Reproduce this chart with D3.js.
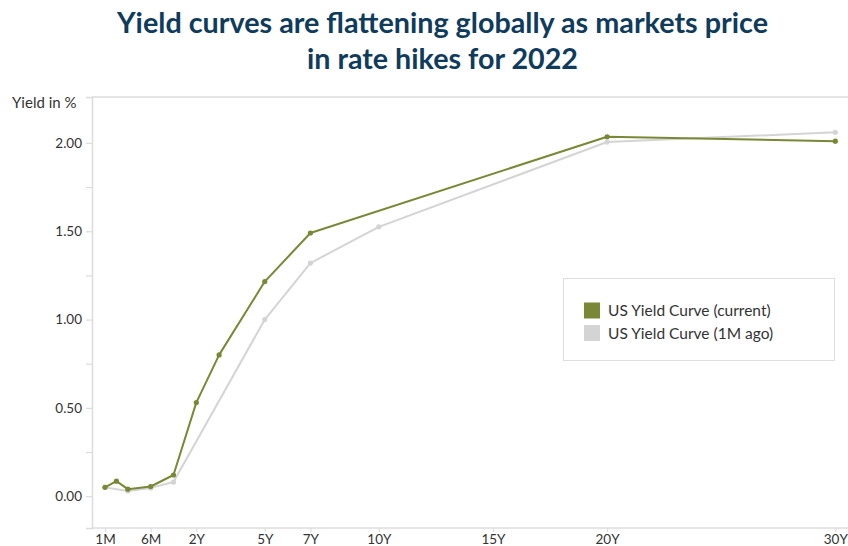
<!DOCTYPE html>
<html><head><meta charset="utf-8">
<script src="https://cdn.jsdelivr.net/npm/d3@7"></script>
<style>body{margin:0;background:#fff}svg{display:block}</style>
</head><body>
<svg id="chart" width="848" height="546"></svg>
<script>
const tenors = ["1M","2M","3M","6M","1Y","2Y","3Y","5Y","7Y","10Y","20Y","30Y"];
const tenorPos = [-2,-1.5,-1,0,1,2,3,5,7,10,20,30];
const currentCurve = [0.05,0.085,0.04,0.055,0.12,0.53,0.80,1.215,1.49,null,2.035,2.01];
const monthAgoCurve = [0.05,null,0.03,0.047,0.08,null,null,1.00,1.32,1.525,2.005,2.06];
const xTickPos = [-2,0,2,5,7,10,15,20,30];
const xTickLabels = ["1M","6M","2Y","5Y","7Y","10Y","15Y","20Y","30Y"];
const yTicks = [0,0.5,1,1.5,2];
const yMinorTicks = [0.25,0.75,1.25,1.75];
const seriesNames = ["US Yield Curve (current)","US Yield Curve (1M ago)"];
const seriesColors = ["#7a8735","#d4d4d4"];
const title = ["Yield curves are flattening globally as markets price","in rate hikes for 2022"];

const svg = d3.select("#chart");
const FONT = "Lato, 'Open Sans', sans-serif";
const L=92, R=849, T=97, B=528;
const x = d3.scaleLinear().domain([-2.57,30.6]).range([L,R]);
const y = d3.scaleLinear().domain([-0.18,2.26]).range([B,T]);

// title
svg.append("text").attr("x",442.5).attr("y",33).attr("text-anchor","middle")
  .attr("font-family",FONT).attr("font-weight",700).attr("font-size",28).attr("fill","#0f3b5c")
  .attr("textLength",651).attr("lengthAdjust","spacingAndGlyphs").text(title[0]);
svg.append("text").attr("x",442.5).attr("y",69).attr("text-anchor","middle")
  .attr("font-family",FONT).attr("font-weight",700).attr("font-size",28).attr("fill","#0f3b5c")
  .attr("textLength",271).attr("lengthAdjust","spacingAndGlyphs").text(title[1]);

// frame
const gridCol="#dcdcdc";
svg.append("line").attr("x1",L).attr("x2",848).attr("y1",T).attr("y2",T).attr("stroke",gridCol).attr("stroke-width",1.5);

// y axis
const yAxis = d3.axisLeft(y).tickValues(yTicks).tickFormat(d3.format(".2f")).tickSize(6).tickPadding(4);
const gy = svg.append("g").attr("transform",`translate(${L},0)`).call(yAxis);
gy.select(".domain").attr("stroke",gridCol).attr("stroke-width",1.5);
gy.selectAll(".tick line").attr("stroke",gridCol).attr("stroke-width",1.2);
gy.selectAll(".tick text").attr("font-family",FONT).attr("font-size",13.5).attr("fill","#333");
const gym = svg.append("g").attr("transform",`translate(${L},0)`)
  .call(d3.axisLeft(y).tickValues(yMinorTicks).tickFormat("").tickSize(6));
gym.select(".domain").remove();
gym.selectAll(".tick line").attr("stroke",gridCol).attr("stroke-width",1.2);

// x axis
const xAxis = d3.axisBottom(x).tickValues(xTickPos).tickFormat((d,i)=>xTickLabels[i]).tickSize(4).tickPadding(2);
const gx = svg.append("g").attr("transform",`translate(0,${B})`).call(xAxis);
gx.select(".domain").attr("stroke",gridCol).attr("stroke-width",1.5).attr("d",`M${L},0H848`);
gx.selectAll(".tick line").attr("stroke",gridCol).attr("stroke-width",1.2);
gx.selectAll(".tick text").attr("font-family",FONT).attr("font-size",13.5).attr("fill","#333");

// y label
svg.append("text").attr("x",12).attr("y",108).attr("font-family",FONT).attr("font-size",15).attr("fill","#333").text("Yield in %");

// lines
const series = [currentCurve, monthAgoCurve];
const line = d3.line().defined(d=>d.v!=null).x(d=>x(d.p)).y(d=>y(d.v));
[1,0].forEach(si=>{
  const pts = series[si].map((v,i)=>({p:tenorPos[i],v,t:tenors[i]})).filter(d=>d.v!=null);
  svg.append("path").datum(pts).attr("d",line).attr("fill","none")
    .attr("stroke",seriesColors[si]).attr("stroke-width",2).attr("stroke-linejoin","round");
  svg.append("g").selectAll("circle").data(pts).join("circle")
    .attr("cx",d=>x(d.p)).attr("cy",d=>y(d.v)).attr("r",2.6).attr("fill",seriesColors[si]);
});

// legend
const lg = svg.append("g");
lg.append("rect").attr("x",563.5).attr("y",278.5).attr("width",271).attr("height",82)
  .attr("fill","#fff").attr("stroke","#dedede").attr("stroke-width",1);
seriesNames.forEach((n,i)=>{
  lg.append("rect").attr("x",584).attr("y",302.5+i*22.5).attr("width",16).attr("height",16).attr("fill",seriesColors[i]);
  lg.append("text").attr("x",608).attr("y",316+i*22.5).attr("font-family",FONT).attr("font-size",15.5).attr("fill","#333").text(n);
});
</script>
</body></html>
